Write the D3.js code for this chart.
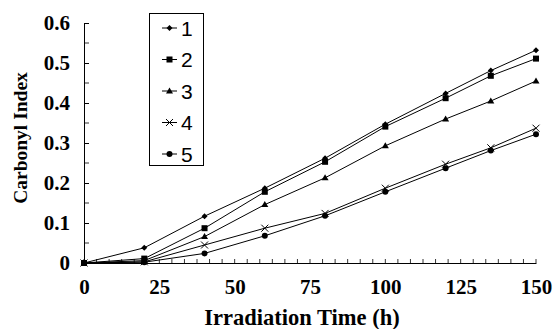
<!DOCTYPE html>
<html><head><meta charset="utf-8">
<script src="https://cdn.jsdelivr.net/npm/d3@7"></script>
<style>body{margin:0;background:#fff}</style>
</head><body>
<svg id="c" width="555" height="329"></svg>
<script>
const times = [0, 20, 40, 60, 80, 100, 120, 135, 150];
const seriesNames = ["1", "2", "3", "4", "5"];
const s1 = [0, 0.038, 0.117, 0.187, 0.262, 0.347, 0.424, 0.481, 0.532];
const s2 = [0, 0.011, 0.087, 0.178, 0.253, 0.341, 0.412, 0.468, 0.511];
const s3 = [0, 0.006, 0.066, 0.146, 0.213, 0.293, 0.360, 0.405, 0.455];
const s4 = [0, 0.003, 0.045, 0.087, 0.124, 0.187, 0.247, 0.288, 0.337];
const s5 = [0, 0.002, 0.024, 0.068, 0.118, 0.178, 0.237, 0.281, 0.322];
const xTicks = [0, 25, 50, 75, 100, 125, 150];
const yTicks = [0, 0.1, 0.2, 0.3, 0.4, 0.5, 0.6];
const yTickLabels = ["0", "0.1", "0.2", "0.3", "0.4", "0.5", "0.6"];
const markers = ["diamond", "square", "triangle", "cross", "circle"];
const allSeries = [s1, s2, s3, s4, s5];

const svg = d3.select("#c");
const x = d3.scaleLinear().domain([0, 150]).range([84, 536]);
const y = d3.scaleLinear().domain([0, 0.6]).range([263, 23]);
const serif = "'Liberation Serif','Times New Roman',serif";
const sans = "'Liberation Sans',Arial,sans-serif";

// x axis
const xa = svg.append("g").attr("transform", `translate(0,${y(0)})`);
xa.call(d3.axisBottom(x).tickValues(xTicks).tickSize(0).tickPadding(16).tickFormat(d => d))
  .call(g => g.select(".domain").attr("stroke", "#000"));
xa.selectAll("text").attr("font-family", serif).attr("font-weight", "bold").attr("font-size", 21).attr("fill", "#000");
const xMinor = d3.range(0, 150.01, 25 / 6);
xa.selectAll(".mt").data(xMinor).join("line").attr("class", "mt")
  .attr("x1", d => x(d)).attr("x2", d => x(d)).attr("y1", 0).attr("y2", -4)
  .attr("stroke", "#000").attr("stroke-width", 0.8);

// y axis
const ya = svg.append("g").attr("transform", `translate(${x(0)},0)`);
ya.call(d3.axisLeft(y).tickValues(yTicks).tickSize(-5).tickPadding(14).tickFormat((d, i) => yTickLabels[i]))
  .call(g => g.select(".domain").attr("stroke", "#000"));
ya.selectAll("text").attr("font-family", serif).attr("font-weight", "bold").attr("font-size", 21).attr("fill", "#000");
const yMinor = d3.range(0.05, 0.6, 0.1);
ya.selectAll(".my").data(yMinor).join("line").attr("class", "my")
  .attr("x1", 0).attr("x2", 5).attr("y1", d => y(d)).attr("y2", d => y(d))
  .attr("stroke", "#000").attr("stroke-width", 0.8);

// titles
svg.append("text").attr("x", 302).attr("y", 325).attr("text-anchor", "middle")
  .attr("font-family", serif).attr("font-weight", "bold").attr("font-size", 22.5).text("Irradiation Time (h)");
svg.append("text").attr("transform", `translate(27,138) rotate(-90)`).attr("text-anchor", "middle")
  .attr("font-family", serif).attr("font-weight", "bold").attr("font-size", 19.5).text("Carbonyl Index");

function drawMarker(g, type, cx, cy) {
  if (type === "diamond") {
    g.append("path").attr("d", `M${cx},${cy - 3}L${cx + 3},${cy}L${cx},${cy + 3}L${cx - 3},${cy}Z`).attr("fill", "#000");
  } else if (type === "square") {
    g.append("rect").attr("x", cx - 3).attr("y", cy - 3).attr("width", 6).attr("height", 6).attr("fill", "#000");
  } else if (type === "triangle") {
    g.append("path").attr("d", `M${cx},${cy - 3.5}L${cx + 3.5},${cy + 2.5}L${cx - 3.5},${cy + 2.5}Z`).attr("fill", "#000");
  } else if (type === "cross") {
    g.append("path").attr("d", `M${cx - 3.5},${cy - 3.5}L${cx + 3.5},${cy + 3.5}M${cx - 3.5},${cy + 3.5}L${cx + 3.5},${cy - 3.5}`)
      .attr("stroke", "#000").attr("stroke-width", 1);
  } else {
    g.append("circle").attr("cx", cx).attr("cy", cy).attr("r", 3).attr("fill", "#000");
  }
}

const line = d3.line().x((d, i) => x(times[i])).y(d => y(d));
allSeries.forEach((s, k) => {
  const g = svg.append("g");
  g.append("path").attr("d", line(s)).attr("fill", "none").attr("stroke", "#000").attr("stroke-width", 1);
  s.forEach((v, i) => drawMarker(g, markers[k], x(times[i]), y(v)));
});

// legend
const lg = svg.append("g");
lg.append("rect").attr("x", 149.5).attr("y", 13.5).attr("width", 54).attr("height", 152)
  .attr("fill", "#fff").attr("stroke", "#000").attr("stroke-width", 1);
seriesNames.forEach((n, k) => {
  const cy = 28 + k * 31.5;
  lg.append("line").attr("x1", 162).attr("x2", 177).attr("y1", cy).attr("y2", cy).attr("stroke", "#000");
  drawMarker(lg, markers[k], 169.5, cy);
  lg.append("text").attr("x", 181).attr("y", cy + 7.5).attr("font-family", sans).attr("font-size", 21).text(n);
});
</script>
</body></html>
